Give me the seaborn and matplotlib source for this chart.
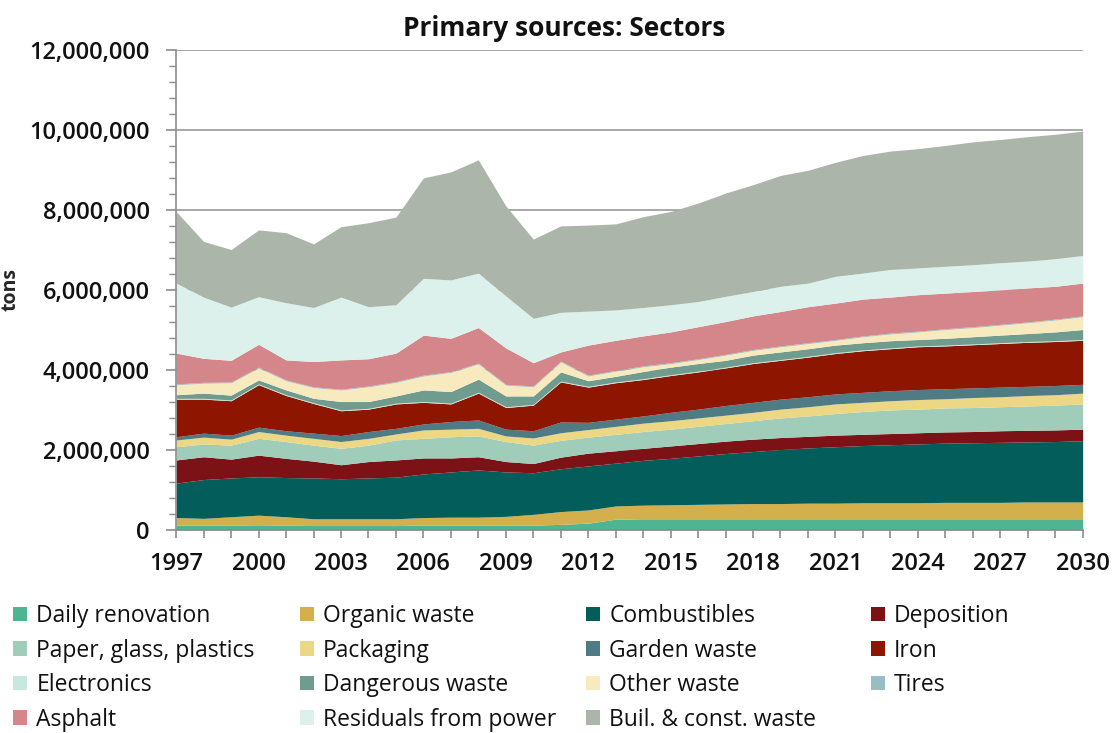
import matplotlib
matplotlib.use("Agg")
import matplotlib.pyplot as plt
from matplotlib.patches import Patch
from matplotlib.ticker import FuncFormatter, MultipleLocator
import pandas as pd
import seaborn as sns

# Years on the x axis
years = list(range(1997, 2031))

# Layer thickness per sector, thousand tons (bottom to top)
daily_renovation = [120, 120, 120, 130, 120, 110, 110, 110, 110, 120, 120, 120, 120,
                    120, 140, 170, 270, 280, 280, 280, 280, 280, 280, 280, 280, 280,
                    280, 280, 280, 280, 280, 280, 280, 280]
organic_waste = [190, 170, 210, 240, 210, 170, 170, 170, 170, 190, 200, 200, 220,
                 270, 320, 330, 330, 340, 350, 360, 370, 380, 380, 390, 390, 400,
                 400, 400, 410, 410, 410, 420, 420, 420]
combustibles = [860, 970, 970, 960, 980, 1020, 1000, 1020, 1040, 1090, 1130, 1180, 1110,
                1040, 1070, 1100, 1070, 1120, 1160, 1210, 1260, 1300, 1350, 1380, 1410, 1430,
                1450, 1470, 1480, 1490, 1500, 1500, 1510, 1530]
deposition = [580, 570, 470, 540, 480, 420, 350, 410, 430, 400, 350, 330, 260,
              230, 290, 320, 310, 300, 310, 310, 310, 310, 300, 290, 290, 280,
              280, 280, 280, 280, 290, 290, 290, 290]
paper_glass_plastics = [330, 320, 350, 420, 420, 400, 410, 410, 500, 490, 530, 520, 500,
                        460, 420, 400, 410, 420, 420, 430, 440, 460, 490, 510, 540, 570,
                        590, 590, 600, 600, 600, 610, 620, 630]
packaging = [170, 170, 150, 170, 160, 170, 170, 170, 150, 210, 190, 190, 140,
             180, 190, 190, 200, 210, 210, 210, 210, 210, 220, 230, 240, 230,
             230, 240, 230, 250, 250, 260, 260, 270]
garden_waste = [80, 100, 100, 110, 110, 130, 150, 170, 140, 150, 190, 210, 170,
                180, 270, 180, 180, 180, 210, 220, 240, 250, 250, 250, 250, 250,
                250, 250, 250, 240, 240, 230, 230, 220]
iron = [940, 850, 860, 1060, 880, 740, 620, 560, 610, 540, 440, 670, 540,
        640, 1000, 880, 910, 910, 920, 930, 940, 970, 970, 990, 1010, 1040,
        1050, 1070, 1070, 1080, 1090, 1100, 1100, 1100]
electronics = [20, 20, 20, 20, 20, 20, 20, 20, 20, 20, 20, 20, 20,
               20, 20, 20, 20, 20, 20, 20, 20, 20, 20, 20, 20, 20,
               20, 20, 20, 20, 20, 20, 20, 20]
dangerous_waste = [90, 130, 120, 100, 120, 110, 210, 170, 180, 290, 290, 330, 270,
                   210, 230, 140, 140, 180, 190, 190, 170, 190, 190, 190, 190, 180,
                   180, 160, 170, 180, 190, 200, 220, 250]
other_waste = [250, 250, 310, 300, 230, 270, 290, 370, 340, 350, 480, 380, 270,
               230, 250, 120, 130, 120, 90, 100, 130, 120, 130, 130, 120, 150,
               170, 190, 220, 230, 250, 270, 300, 320]
tires = [20, 20, 20, 20, 20, 20, 20, 20, 20, 20, 20, 20, 20,
         20, 20, 20, 20, 20, 20, 20, 20, 20, 20, 20, 20, 20,
         20, 20, 20, 20, 20, 20, 20, 20]
asphalt = [770, 600, 540, 570, 500, 630, 730, 680, 710, 1000, 830, 890, 910,
           580, 230, 750, 750, 750, 770, 800, 820, 840, 860, 900, 910, 920,
           900, 910, 890, 880, 860, 850, 820, 820]
residuals_power = [1750, 1530, 1330, 1190, 1430, 1350, 1570, 1300, 1210, 1420, 1460, 1360, 1300,
                   1110, 990, 850, 760, 710, 680, 630, 630, 610, 630, 590, 670, 650,
                   690, 670, 670, 670, 680, 670, 690, 690]
building_waste = [1790, 1390, 1440, 1670, 1750, 1590, 1760, 2100, 2190, 2510, 2700, 2830, 2250,
                  1980, 2160, 2150, 2150, 2270, 2330, 2460, 2580, 2670, 2770, 2820, 2850, 2940,
                  2960, 2980, 3020, 3070, 3080, 3110, 3110, 3110]

sectors = ["Daily renovation", "Organic waste", "Combustibles", "Deposition",
           "Paper, glass, plastics", "Packaging", "Garden waste", "Iron",
           "Electronics", "Dangerous waste", "Other waste", "Tires",
           "Asphalt", "Residuals from power", "Buil. & const. waste"]
colors = ["#4db592", "#d3b04c", "#035e5b", "#7c1215",
          "#9fcdb9", "#ebd784", "#4f7b85", "#8e1500",
          "#c8e8df", "#6f9c8f", "#f8eabf", "#97bec2",
          "#d4868b", "#dcf0ec", "#abb5aa"]

df = pd.DataFrame({
    sectors[0]: daily_renovation, sectors[1]: organic_waste,
    sectors[2]: combustibles, sectors[3]: deposition,
    sectors[4]: paper_glass_plastics, sectors[5]: packaging,
    sectors[6]: garden_waste, sectors[7]: iron,
    sectors[8]: electronics, sectors[9]: dangerous_waste,
    sectors[10]: other_waste, sectors[11]: tires,
    sectors[12]: asphalt, sectors[13]: residuals_power,
    sectors[14]: building_waste,
}, index=years) * 1000

sns.set_theme(style="white")
plt.rcParams["font.family"] = ["Open Sans", "DejaVu Sans"]
plt.rcParams["text.color"] = "#111111"
plt.rcParams["xtick.color"] = "#111111"
plt.rcParams["ytick.color"] = "#111111"
palette = sns.color_palette(colors)

fig = plt.figure(figsize=(11.15, 7.33), dpi=100)
ax = fig.add_axes([0.158, 0.277, 0.813, 0.655])

ax.stackplot(df.index, df.T.values, colors=palette, linewidth=0)

ax.set_xlim(1997, 2030)
ax.set_ylim(0, 12_000_000)
ax.yaxis.set_major_locator(MultipleLocator(2_000_000))
ax.yaxis.set_minor_locator(MultipleLocator(400_000))
ax.yaxis.set_major_formatter(FuncFormatter(lambda v, _: f"{v:,.0f}"))
ax.set_xticks(years)
ax.set_xticklabels([str(y) if (y - 1997) % 3 == 0 else "" for y in years])

ax.grid(axis="y", which="major", color="#9a9a9a", linewidth=1.2)
ax.set_axisbelow(True)
for side in ["top", "right"]:
    ax.spines[side].set_visible(False)
for side in ["left", "bottom"]:
    ax.spines[side].set_color("#8c8c8c")
    ax.spines[side].set_linewidth(1.2)

ax.tick_params(axis="y", which="major", direction="out", length=7, width=1.2,
               color="#8c8c8c", left=True, pad=12, labelsize=17)
ax.tick_params(axis="y", which="minor", direction="out", length=5, width=1,
               color="#8c8c8c", left=True)
ax.tick_params(axis="x", direction="out", length=6, width=1.2, color="#8c8c8c",
               bottom=True, pad=10, labelsize=17)
for lab in ax.get_xticklabels() + ax.get_yticklabels():
    lab.set_fontweight("semibold")

ax.set_ylabel("tons", fontsize=14, fontweight="bold")
ax.yaxis.set_label_coords(-0.172, 0.5)
fig.text(564 / 1115, 1 - 29 / 733, "Primary sources: Sectors", ha="center",
         va="center", fontsize=19, fontweight="bold")

# legend laid out row by row in four columns, like the original
col_x = [0.012, 0.269, 0.526, 0.781]
for c in range(4):
    idx = list(range(c, len(sectors), 4))
    handles = [Patch(facecolor=palette[i], edgecolor="none") for i in idx]
    fig.legend(handles, [sectors[i] for i in idx], loc="upper left",
               bbox_to_anchor=(col_x[c], 0.176), frameon=False,
               prop={"size": 16.5, "weight": "medium"},
               handlelength=0.6, handleheight=0.6, handletextpad=0.4,
               labelspacing=0.46, borderpad=0, borderaxespad=0)

fig.savefig("out.png", dpi=100)
